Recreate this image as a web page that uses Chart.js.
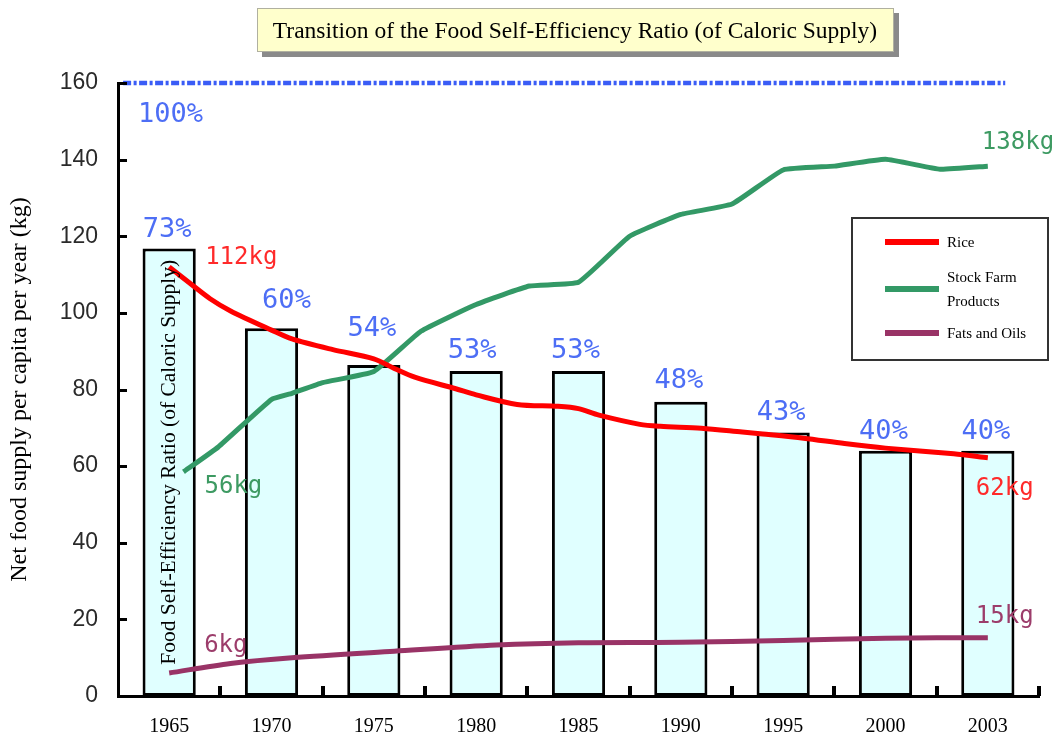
<!DOCTYPE html>
<html><head><meta charset="utf-8">
<script src="https://cdn.jsdelivr.net/npm/chart.js@4.4.1/dist/chart.umd.min.js"></script>
<style>html,body{margin:0;padding:0;background:#fff;} #wrap{width:1060px;height:736px;}</style>
</head><body><div id="wrap"><canvas id="c" width="1060" height="736"></canvas></div>
<script>
// ---------------- data ----------------
const years = ['1965','1970','1975','1980','1985','1990','1995','2000','2003'];
const selfRatioPct = [73, 60, 54, 53, 53, 48, 43, 40, 40];
const fullRatioPct = 100;
const yTicks = [0, 20, 40, 60, 80, 100, 120, 140, 160];

const riceYears = [1965,1966,1967,1968,1970,1971,1973,1975,1976,1977,1979,1980,1982,1984,1985,1986,1988,1989,1991,1993,1994,1996,1998,2000,2002,2003];
const riceKg    = [112,107.8,103.7,100.5,95.5,93.2,90.4,88,85.5,83.2,80.2,78.6,76.1,75.6,75,73.3,70.9,70.4,69.9,68.9,68.4,67.3,65.9,64.7,63.2,62.2];

const stockYears = [1965.7,1967.4,1970,1971,1972.5,1975,1977.3,1980,1982.6,1985,1987.5,1990,1992.5,1995,1997.5,2000,2001.6,2003];
const stockKg    = [58.5,65,77.4,79,81.8,84.7,95.2,102.2,107,108,120,125.7,128.4,137.3,138.3,140.1,137.5,138.3];

const fatsYears = [1965,1968,1971,1976,1981,1985,1990,1995,2000,2003];
const fatsKg    = [6,8.5,10,11.7,13.3,13.9,14,14.5,15.1,15.2];

const seriesNames = ['Rice', 'Stock Farm Products', 'Fats and Oils'];
const endLabels = { rice: ['112kg', '62kg'], stock: ['56kg', '138kg'], fats: ['6kg', '15kg'] };

const titleText = 'Transition of the Food Self-Efficiency Ratio (of Caloric Supply)';
const yTitle = 'Net food supply per capita per year (kg)';
const barText = 'Food Self-Efficiency Ratio (of Caloric Supply)';

const KG_PER_PCT = 1.6; // 100% is drawn at 160 on the kg axis

// ---------------- helpers ----------------
function yearToIndex(y) { return y <= 2000 ? (y - 1965) / 5 : 7 + (y - 2000) / 3; }
function pts(xs, ys) { return xs.map((x, i) => ({ x: yearToIndex(x), y: ys[i] })); }

const COL = { rice: '#ff0000', stock: '#339966', fats: '#993366', blue: '#3a5cf6', pct: '#4d6ef5' };
const MONO = '"DejaVu Sans Mono", monospace';
const SERIF = '"Liberation Serif", "Times New Roman", serif';

function monoText(ctx, text, x, cy, size, color, align) {
  ctx.font = size + 'px ' + MONO;
  ctx.fillStyle = color;
  ctx.textAlign = align;
  ctx.textBaseline = 'alphabetic';
  ctx.fillText(text, x, cy + size * 0.365);
}

// label offsets relative to the bar top (dx, px above)
const pctLabelShift = [[-2,21],[15,30],[-2,39],[-4,23],[-3,23],[-2,24],[-2,22],[-2,22],[-2,22]];

const deco = {
  id: 'deco',
  beforeDraw(chart) {
    const c = chart.ctx; c.save(); c.fillStyle = '#fff'; c.fillRect(0, 0, chart.width, chart.height); c.restore();
  },
  afterDatasetsDraw(chart) {
    const c = chart.ctx, xs = chart.scales.x, ys = chart.scales.y;
    c.save();
    // rotated text inside first bar
    const b0 = chart.getDatasetMeta(4).data[0];
    c.save();
    c.translate(b0.x, ys.getPixelForValue(61));
    c.rotate(-Math.PI / 2);
    c.font = '21.5px ' + SERIF; c.fillStyle = '#000'; c.textAlign = 'center'; c.textBaseline = 'middle';
    c.fillText(barText, 0, 0);
    c.restore();
    // percent labels
    const bars = chart.getDatasetMeta(4).data;
    bars.forEach((el, i) => {
      const s = pctLabelShift[i];
      monoText(c, selfRatioPct[i] + '%', el.x + s[0], el.y - s[1], 27, COL.pct, 'center');
    });
    // 100% label
    monoText(c, fullRatioPct + '%', chart.chartArea.left + 20, ys.getPixelForValue(fullRatioPct * KG_PER_PCT) + 29, 27, COL.pct, 'left');
    // kg labels at line ends
    const endPt = (dsIdx, last) => { const d = chart.getDatasetMeta(dsIdx).data; return last ? d[d.length - 1] : d[0]; };
    let p;
    p = endPt(0, false); monoText(c, endLabels.rice[0], p.x + 36, p.y - 12, 24, '#ff2a2a', 'left');
    p = endPt(0, true);  monoText(c, endLabels.rice[1], p.x - 12, p.y + 29, 24, '#ff2a2a', 'left');
    p = endPt(1, false); monoText(c, endLabels.stock[0], p.x + 21, p.y + 12, 24, '#3d9a62', 'left');
    p = endPt(1, true);  monoText(c, endLabels.stock[1], p.x - 6, p.y - 26, 24, '#3d9a62', 'left');
    p = endPt(2, false); monoText(c, endLabels.fats[0], p.x + 35, p.y - 30, 24, '#9c3d6b', 'left');
    p = endPt(2, true);  monoText(c, endLabels.fats[1], p.x - 12, p.y - 24, 24, '#9c3d6b', 'left');
    c.restore();
  },
  afterDraw(chart) {
    const c = chart.ctx, xs = chart.scales.x, ys = chart.scales.y, a = chart.chartArea;
    c.save();
    // inward tick marks
    c.strokeStyle = '#000'; c.lineWidth = 3; c.lineCap = 'butt';
    yTicks.forEach(v => {
      if (v === 0) return;
      const y = Math.round(ys.getPixelForValue(v)) + 0.5;
      c.beginPath(); c.moveTo(a.left, y); c.lineTo(a.left + 9, y); c.stroke();
    });
    c.lineWidth = 4;
    for (let i = 0; i < years.length; i++) {
      const x = Math.round(xs.getPixelForValue(i + 0.5));
      c.beginPath(); c.moveTo(x, a.bottom); c.lineTo(x, a.bottom - 10); c.stroke();
    }
    // title box
    c.fillStyle = '#8a8a8a';
    c.fillRect(262, 13, 637, 44);
    c.fillStyle = '#ffffcc';
    c.fillRect(257, 8, 637, 44);
    c.strokeStyle = '#b0b0a0'; c.lineWidth = 1;
    c.strokeRect(257.5, 8.5, 636, 43);
    c.fillStyle = '#000'; c.font = '23.5px ' + SERIF; c.textAlign = 'center'; c.textBaseline = 'middle';
    c.fillText(titleText, 575, 32);
    // legend
    c.fillStyle = '#fff'; c.fillRect(852, 218, 196, 142);
    c.strokeStyle = '#333'; c.lineWidth = 2; c.strokeRect(852, 218, 196, 142);
    const lg = [[COL.rice, 242, [seriesNames[0]], [243]],
                [COL.stock, 289, ['Stock Farm', 'Products'], [278, 302]],
                [COL.fats, 333, [seriesNames[2]], [334]]];
    lg.forEach(([col, ly, texts, tys]) => {
      c.strokeStyle = col; c.lineWidth = 6;
      c.beginPath(); c.moveTo(885, ly); c.lineTo(939, ly); c.stroke();
      c.fillStyle = '#000'; c.font = '15px ' + SERIF; c.textAlign = 'left'; c.textBaseline = 'middle';
      texts.forEach((t, k) => c.fillText(t, 947, tys[k]));
    });
    c.restore();
  }
};

new Chart(document.getElementById('c'), {
  type: 'bar',
  data: {
    datasets: [
      { type: 'line', label: seriesNames[0], data: pts(riceYears, riceKg), borderColor: COL.rice, borderWidth: 5, pointRadius: 0, tension: 0.3, order: 1 },
      { type: 'line', label: seriesNames[1], data: pts(stockYears, stockKg), borderColor: COL.stock, borderWidth: 5, pointRadius: 0, tension: 0.12, order: 2 },
      { type: 'line', label: seriesNames[2], data: pts(fatsYears, fatsKg), borderColor: COL.fats, borderWidth: 5, pointRadius: 0, tension: 0.3, order: 3 },
      { type: 'line', label: '100%', data: [{ x: -0.45, y: fullRatioPct * KG_PER_PCT }, { x: 8.17, y: fullRatioPct * KG_PER_PCT }],
        borderColor: COL.blue, borderWidth: 4.5, borderDash: [8, 2.5, 3, 2.5], pointRadius: 0, clip: 8, order: 4 },
      { type: 'bar', label: 'Ratio', data: selfRatioPct.map((p, i) => ({ x: i, y: p * KG_PER_PCT })),
        backgroundColor: '#e0ffff', borderColor: '#000', borderWidth: 3, borderSkipped: false,
        categoryPercentage: 1, barPercentage: 0.52, order: 10 }
    ]
  },
  options: {
    responsive: false, animation: false, devicePixelRatio: 1,
    layout: { padding: { top: 83, right: 21, left: 0, bottom: 0 } },
    plugins: { legend: { display: false }, tooltip: { enabled: false } },
    scales: {
      x: {
        type: 'linear', min: -0.5, max: 8.5, offset: false, z: 1,
        grid: { display: false, offset: false },
        border: { display: true, color: '#000', width: 3 },
        afterBuildTicks: s => { s.ticks = years.map((_, i) => ({ value: i })); },
        afterFit: s => { s.height = 40; },
        ticks: { autoSkip: false, maxRotation: 0, padding: 11, color: '#000',
                 font: { family: SERIF, size: 20 }, callback: (v, i) => years[i] }
      },
      y: {
        min: 0, max: 160, z: 1,
        grid: { display: false },
        border: { display: true, color: '#000', width: 3 },
        afterBuildTicks: s => { s.ticks = yTicks.map(v => ({ value: v })); },
        afterFit: s => { s.width = 118; },
        ticks: { padding: 12, color: '#2a2a2a', font: { family: '"Liberation Sans", Arial, sans-serif', size: 23 } },
        title: { display: true, text: yTitle, color: '#000', font: { family: SERIF, size: 24 }, padding: { top: 5, bottom: 0 } }
      }
    }
  },
  plugins: [deco]
});
</script></body></html>
